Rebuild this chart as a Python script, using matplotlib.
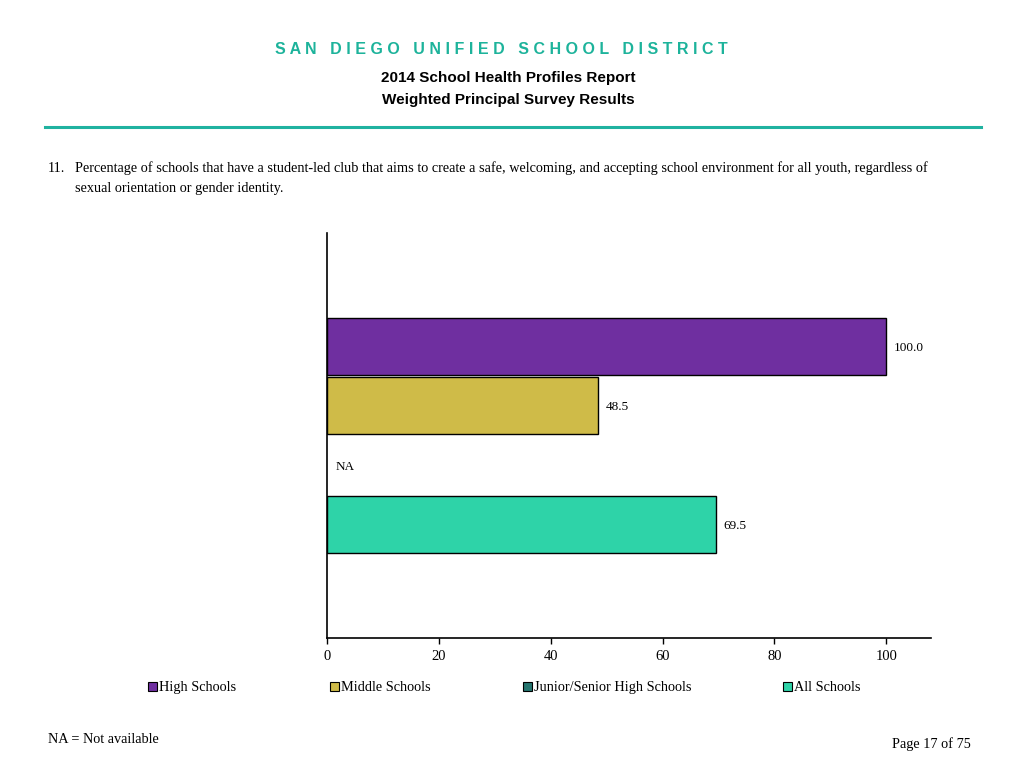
import matplotlib
matplotlib.use("Agg")
import matplotlib.pyplot as plt
from matplotlib.lines import Line2D
import numpy as np

categories = ["High Schools", "Middle Schools", "Junior/Senior High Schools", "All Schools"]
values = [100.0, 48.5, None, 69.5]
colors = ["#6F2FA0", "#CFBB48", "#25756F", "#2ED3A8"]
xticks = [0, 20, 40, 60, 80, 100]

fig = plt.figure(figsize=(10.24, 7.68), dpi=100)
serif = ["Liberation Serif", "DejaVu Serif"]
sans = ["Liberation Sans", "DejaVu Sans"]

# Header
fig.text(501.5/1024, 1 - 50/768, "S A N   D I E G O   U N I F I E D   S C H O O L   D I S T R I C T",
         ha="center", va="center", color="#1DB39B", fontsize=11.5, fontweight="bold", family=sans)
fig.text(508/1024, 1 - 78/768, "2014 School Health Profiles Report", ha="center", va="center",
         fontsize=11, fontweight="bold", family=sans)
fig.text(508/1024, 1 - 100/768, "Weighted Principal Survey Results", ha="center", va="center",
         fontsize=11, fontweight="bold", family=sans)
fig.add_artist(Line2D([45/1024, 981/1024], [1 - 127/768, 1 - 127/768], color="#20B2A0", lw=2.2))

fig.text(48/1024, 1 - 172/768, "11.", ha="left", va="baseline", fontsize=10.3, family=serif)
fig.text(75/1024, 1 - 172/768,
         "Percentage of schools that have a student-led club that aims to create a safe, welcoming, and accepting school environment for all youth, regardless of",
         ha="left", va="baseline", fontsize=10.3, family=serif)
fig.text(75/1024, 1 - 192/768, "sexual orientation or gender identity.",
         ha="left", va="baseline", fontsize=10.3, family=serif)

# Axes
ax = fig.add_axes([327/1024, 1 - 638/768, (931 - 327)/1024, (638 - 233)/768])
n = len(categories)
ypos = np.arange(n)
for i, (v, c) in enumerate(zip(values, colors)):
    if v is None:
        ax.text(1.5, ypos[i], "NA", ha="left", va="center_baseline", fontsize=9.5, family=serif)
    else:
        ax.barh(ypos[i], v, height=0.965, color=c, edgecolor="black", linewidth=1.0)
        ax.text(v + 1.4, ypos[i], f"{v:.1f}", ha="left", va="center_baseline", fontsize=9.5, family=serif)

ax.set_xlim(0, 108)
ax.set_ylim(1.5 + 3.42, 1.5 - 3.42)
ax.set_yticks([])
ax.set_xticks(xticks)
ax.set_xticklabels([str(t) for t in xticks], family=serif, fontsize=10.5)
ax.tick_params(axis="x", direction="out", length=4, width=1, pad=5)
ax.spines["top"].set_visible(False)
ax.spines["right"].set_visible(False)
ax.spines["left"].set_linewidth(1.2)
ax.spines["bottom"].set_linewidth(1.2)

# Legend
leg_x = [148, 330, 523, 783]
for lx, cat, c in zip(leg_x, categories, colors):
    fig.patches.append(plt.Rectangle((lx/1024, 1 - 691/768), 9/1024, 9/768, transform=fig.transFigure,
                                     facecolor=c, edgecolor="black", linewidth=0.8))
    fig.text((lx + 11)/1024, 1 - 691/768, cat, ha="left", va="baseline", fontsize=10.3, family=serif)

fig.text(48/1024, 1 - 743/768, "NA = Not available", ha="left", va="baseline", fontsize=10.3, family=serif)
fig.text(971/1024, 1 - 748/768, "Page 17 of 75", ha="right", va="baseline", fontsize=10.3, family=serif)

fig.savefig("out.png", dpi=100)
